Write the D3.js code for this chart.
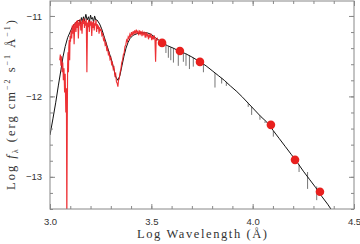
<!DOCTYPE html>
<html>
<head>
<meta charset="utf-8">
<script src="https://cdn.jsdelivr.net/npm/d3@7"></script>
<style>
  body { margin: 0; background: #fff; }
  svg { display: block; font-family: "Liberation Serif", "DejaVu Serif", serif; }
</style>
</head>
<body>
<div id="chart"></div>
<script>
// model SED (black)
var modelWave = [3.000, 3.015, 3.028, 3.041, 3.054, 3.064, 3.075, 3.087, 3.099, 3.110, 3.120, 3.133, 3.145, 3.150, 3.155, 3.160, 3.165, 3.170, 3.177, 3.183, 3.190, 3.195, 3.200, 3.205, 3.210, 3.215, 3.220, 3.226, 3.232, 3.245, 3.255, 3.265, 3.275, 3.285, 3.295, 3.305, 3.315, 3.325, 3.335, 3.345, 3.355, 3.365, 3.375, 3.385, 3.395, 3.410, 3.430, 3.450, 3.480, 3.500, 3.520, 3.553, 3.580, 3.608, 3.641, 3.670, 3.700, 3.740, 3.770, 3.800, 3.830, 3.860, 3.890, 3.922, 3.950, 3.980, 4.010, 4.040, 4.070, 4.100, 4.130, 4.160, 4.190, 4.220, 4.250, 4.280, 4.310, 4.340, 4.370, 4.386];
var modelFlux = [-12.48, -12.27, -12.08, -11.87, -11.67, -11.51, -11.38, -11.27, -11.20, -11.14, -11.10, -11.07, -11.05, -11.10, -11.02, -11.07, -11.01, -11.06, -10.98, -11.05, -11.01, -11.07, -10.99, -11.04, -11.02, -11.08, -11.00, -11.05, -11.05, -11.10, -11.16, -11.24, -11.32, -11.40, -11.48, -11.56, -11.66, -11.76, -11.80, -11.74, -11.62, -11.50, -11.40, -11.33, -11.28, -11.24, -11.22, -11.21, -11.21, -11.23, -11.27, -11.33, -11.37, -11.40, -11.44, -11.47, -11.51, -11.57, -11.62, -11.68, -11.74, -11.80, -11.87, -11.94, -12.01, -12.09, -12.17, -12.25, -12.32, -12.42, -12.52, -12.62, -12.72, -12.82, -12.93, -13.03, -13.13, -13.24, -13.34, -13.40];

// absorption features hanging off the model (gray)
var lineWave = [3.572, 3.584, 3.596, 3.609, 3.633, 3.658, 3.671, 3.688, 3.707, 3.757, 3.814, 3.847, 3.870, 3.978, 3.995, 4.036, 4.061, 4.102, 4.229, 4.271, 4.316];
var lineTop  = [-11.36, -11.38, -11.39, -11.40, -11.43, -11.46, -11.47, -11.49, -11.52, -11.60, -11.71, -11.77, -11.82, -12.08, -12.13, -12.24, -12.31, -12.43, -12.85, -12.94, -13.12];
var lineLow  = [-11.46, -11.52, -11.55, -11.58, -11.62, -11.57, -11.62, -11.66, -11.63, -11.70, -11.89, -11.84, -11.87, -12.13, -12.23, -12.29, -12.33, -12.50, -12.94, -13.15, -13.29];

// observed spectrum (red)
var specWave = [3.048, 3.051, 3.054, 3.057, 3.060, 3.063, 3.066, 3.069, 3.072, 3.075, 3.078, 3.081, 3.083, 3.085, 3.087, 3.089, 3.091, 3.093, 3.095, 3.097, 3.099, 3.101, 3.104, 3.107, 3.110, 3.113, 3.116, 3.119, 3.122, 3.125, 3.128, 3.131, 3.134, 3.137, 3.140, 3.143, 3.146, 3.149, 3.152, 3.155, 3.158, 3.161, 3.164, 3.167, 3.170, 3.173, 3.176, 3.179, 3.182, 3.185, 3.188, 3.191, 3.194, 3.197, 3.200, 3.203, 3.206, 3.209, 3.212, 3.215, 3.218, 3.221, 3.224, 3.227, 3.230, 3.233, 3.236, 3.239, 3.242, 3.245, 3.248, 3.252, 3.256, 3.260, 3.264, 3.268, 3.272, 3.276, 3.280, 3.284, 3.288, 3.292, 3.296, 3.300, 3.304, 3.308, 3.312, 3.316, 3.320, 3.324, 3.328, 3.332, 3.335, 3.338, 3.342, 3.346, 3.350, 3.354, 3.358, 3.362, 3.366, 3.370, 3.374, 3.378, 3.382, 3.386, 3.390, 3.394, 3.398, 3.402, 3.406, 3.410, 3.414, 3.418, 3.422, 3.426, 3.430, 3.434, 3.438, 3.442, 3.446, 3.450, 3.454, 3.458, 3.462, 3.466, 3.470, 3.474, 3.478, 3.482, 3.486, 3.490, 3.494, 3.498, 3.502, 3.506, 3.510, 3.514, 3.518, 3.521, 3.524, 3.527, 3.530];
var specFlux = [-11.55, -11.48, -11.62, -11.50, -11.70, -11.58, -11.80, -11.65, -11.95, -11.72, -12.20, -11.90, -13.60, -12.40, -11.60, -11.45, -11.70, -11.38, -11.30, -11.55, -11.25, -11.32, -11.18, -11.28, -11.12, -11.22, -11.10, -11.35, -11.12, -11.08, -11.20, -11.06, -11.15, -11.05, -11.28, -11.08, -11.12, -11.04, -11.18, -11.07, -11.22, -11.05, -11.10, -11.03, -11.15, -11.06, -11.12, -11.04, -11.70, -11.08, -11.14, -11.05, -11.20, -11.07, -11.12, -11.06, -11.25, -11.08, -11.15, -11.06, -11.18, -11.09, -11.12, -11.05, -11.20, -11.10, -11.16, -11.12, -11.22, -11.14, -11.18, -11.17, -11.24, -11.22, -11.30, -11.28, -11.36, -11.34, -11.42, -11.40, -11.48, -11.46, -11.54, -11.52, -11.60, -11.58, -11.66, -11.64, -11.74, -11.72, -11.82, -11.84, -11.88, -11.80, -11.78, -11.70, -11.66, -11.58, -11.55, -11.48, -11.46, -11.38, -11.36, -11.30, -11.32, -11.26, -11.28, -11.23, -11.26, -11.20, -11.24, -11.19, -11.23, -11.18, -11.22, -11.17, -11.21, -11.19, -11.24, -11.18, -11.22, -11.19, -11.25, -11.20, -11.23, -11.21, -11.27, -11.20, -11.25, -11.22, -11.29, -11.23, -11.27, -11.22, -11.30, -11.25, -11.29, -11.24, -11.30, -11.57, -11.28, -11.31, -11.27];

// photometry (red dots)
var photWave = [3.553, 3.641, 3.740, 4.090, 4.209, 4.332];
var photFlux = [-11.335, -11.435, -11.571, -12.354, -12.789, -13.186];

var xTicks = [3.0, 3.5, 4.0, 4.5];
var yTicks = [-11, -12, -13];

var W = 360, H = 244;
var margin = { top: 1, right: 6, bottom: 35, left: 50 };
var width = W - margin.left - margin.right,
    height = H - margin.top - margin.bottom;

var svg = d3.select("#chart").append("svg")
    .attr("width", W)
    .attr("height", H);

var g = svg.append("g")
    .attr("transform", "translate(" + margin.left + "," + margin.top + ")");

var x = d3.scaleLinear().domain([3.0, 4.5]).range([0, width]);
var y = d3.scaleLinear().domain([-13.4, -10.814]).range([height, 0]);

g.append("clipPath").attr("id", "clip")
    .append("rect").attr("width", width).attr("height", height);

var plot = g.append("g").attr("clip-path", "url(#clip)");

var line = d3.line()
    .x(function (d) { return x(d[0]); })
    .y(function (d) { return y(d[1]); });

// gray lines
plot.selectAll(".feat")
    .data(lineWave.map(function (w, i) { return [w, lineTop[i], lineLow[i]]; }))
    .enter().append("line")
    .attr("class", "feat")
    .attr("x1", function (d) { return x(d[0]); })
    .attr("x2", function (d) { return x(d[0]); })
    .attr("y1", function (d) { return y(d[1]); })
    .attr("y2", function (d) { return y(d[2]); })
    .attr("stroke", "#666")
    .attr("stroke-width", 0.9);

plot.append("path")
    .datum(modelWave.map(function (w, i) { return [w, modelFlux[i]]; }))
    .attr("d", line)
    .attr("fill", "none")
    .attr("stroke", "#111")
    .attr("stroke-width", 1);

plot.append("path")
    .datum(specWave.map(function (w, i) { return [w, specFlux[i]]; }))
    .attr("d", line)
    .attr("fill", "none")
    .attr("stroke", "#ec1f24")
    .attr("stroke-width", 1.15)
    .attr("stroke-opacity", 0.92);

plot.selectAll(".phot")
    .data(photWave.map(function (w, i) { return [w, photFlux[i]]; }))
    .enter().append("circle")
    .attr("class", "phot")
    .attr("cx", function (d) { return x(d[0]); })
    .attr("cy", function (d) { return y(d[1]); })
    .attr("r", 4.3)
    .attr("fill", "#e8201e");

// frame + ticks (inward)
var axisColor = "#888";
function styleAxis(sel) {
    sel.select(".domain").remove();
    sel.selectAll("line").attr("stroke", axisColor);
    sel.selectAll("text").attr("fill", "#333").style("font-size", "9.5px");
}
var xMinor = d3.range(3.0, 4.51, 0.1), yMinor = d3.range(-13.4, -10.81, 0.2);

g.append("g").attr("transform", "translate(0," + height + ")")
    .call(d3.axisBottom(x).tickValues(xMinor).tickSize(-3).tickFormat(""))
    .call(styleAxis);
g.append("g").attr("transform", "translate(0," + height + ")")
    .call(d3.axisBottom(x).tickValues(xTicks).tickSize(-5).tickPadding(9).tickFormat(d3.format(".1f")))
    .call(styleAxis);
g.append("g")
    .call(d3.axisTop(x).tickValues(xMinor).tickSize(-3).tickFormat(""))
    .call(styleAxis);
g.append("g")
    .call(d3.axisTop(x).tickValues(xTicks).tickSize(-5).tickFormat(""))
    .call(styleAxis);
g.append("g")
    .call(d3.axisLeft(y).tickValues(yMinor).tickSize(-3).tickFormat(""))
    .call(styleAxis);
g.append("g")
    .call(d3.axisLeft(y).tickValues(yTicks).tickSize(-5).tickPadding(8).tickFormat(function (d) { return "\u2212" + Math.abs(d); }))
    .call(styleAxis);
g.append("g").attr("transform", "translate(" + width + ",0)")
    .call(d3.axisRight(y).tickValues(yMinor).tickSize(-3).tickFormat(""))
    .call(styleAxis);
g.append("g").attr("transform", "translate(" + width + ",0)")
    .call(d3.axisRight(y).tickValues(yTicks).tickSize(-5).tickFormat(""))
    .call(styleAxis);

g.append("rect")
    .attr("width", width).attr("height", height)
    .attr("fill", "none").attr("stroke", axisColor).attr("stroke-width", 1);

// axis titles
svg.append("text")
    .attr("x", 202).attr("y", 238)
    .attr("text-anchor", "middle")
    .attr("fill", "#333")
    .style("font-size", "12.5px")
    .attr("textLength", 130)
    .attr("lengthAdjust", "spacing")
    .text("Log Wavelength (\u00c5)");

var yl = svg.append("text")
    .attr("transform", "translate(15,104) rotate(-90)")
    .attr("text-anchor", "middle")
    .attr("fill", "#333")
    .style("font-size", "12.5px")
    .style("letter-spacing", "2px");
yl.append("tspan").text("Log ");
yl.append("tspan").style("font-style", "italic").text("f");
yl.append("tspan").attr("dy", 3).style("font-size", "8px").text("\u03bb");
yl.append("tspan").attr("dy", -3).text(" (erg cm");
yl.append("tspan").attr("dy", -5).style("font-size", "8px").text("\u22122");
yl.append("tspan").attr("dy", 5).text(" s");
yl.append("tspan").attr("dy", -5).style("font-size", "8px").text("\u22121");
yl.append("tspan").attr("dy", 5).text(" \u00c5");
yl.append("tspan").attr("dy", -5).style("font-size", "8px").text("\u22121");
yl.append("tspan").attr("dy", 5).text(")");
</script>
</body>
</html>
